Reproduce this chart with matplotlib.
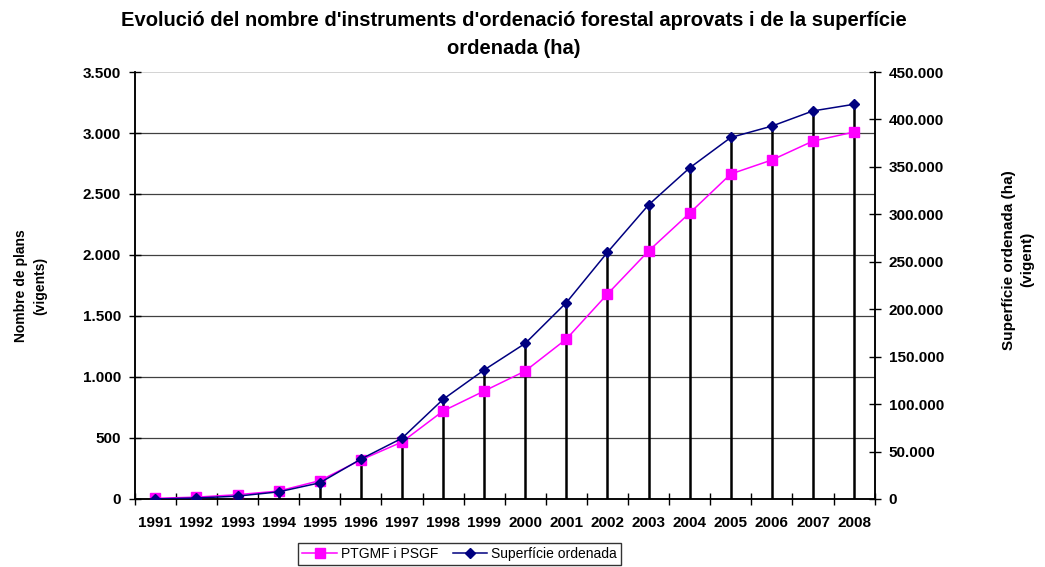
import matplotlib.pyplot as plt
import numpy as np

plt.rcParams['font.family'] = ['Liberation Sans', 'DejaVu Sans']

years = ['1991', '1992', '1993', '1994', '1995', '1996', '1997', '1998', '1999',
         '2000', '2001', '2002', '2003', '2004', '2005', '2006', '2007', '2008']
plans = [5, 15, 35, 65, 150, 320, 467, 721, 885,
         1049, 1311, 1680, 2033, 2344, 2664, 2779, 2934, 3008]
superficie = [0, 1000, 3000, 7500, 17000, 42000, 64000, 105000, 136000,
              164000, 207000, 260000, 310000, 349000, 381000, 393000, 409000, 416000]

fig = plt.figure(figsize=(10.45, 5.67), dpi=100)
ax1 = fig.add_axes([0.129, 0.12, 0.708, 0.753])
ax2 = ax1.twinx()

x = np.arange(len(years))
ymax1, ymax2 = 3500, 450000

# drop lines from the highest point down to the axis
top = np.maximum(np.array(plans), np.array(superficie) * ymax1 / ymax2)
ax1.vlines(x, 0, top, color='black', lw=1.8, zorder=1)

for v in range(500, 3500, 500):
    ax1.axhline(v, color='#404040', lw=0.9, zorder=0)
ax1.axhline(3500, color='#cccccc', lw=1.2, zorder=0)

ax1.plot(x, plans, color='#ff00ff', marker='s', ms=6.5, lw=1.1, zorder=3,
         label='PTGMF i PSGF')
ax2.plot(x, superficie, color='#000080', marker='D', ms=5, lw=1.1, zorder=3,
         label='Superfície ordenada')

ax1.set_xlim(-0.5, len(years) - 0.5)
ax1.set_ylim(0, ymax1)
ax2.set_ylim(0, ymax2)

fs = 11
ax1.set_xticks(x)
ax1.set_xticklabels(years, fontsize=fs, fontweight='bold')
ax1.set_xticks(np.arange(-0.5, len(years), 1), minor=True)
ax1.tick_params(axis='x', which='major', length=0, pad=12)
ax1.tick_params(axis='x', which='minor', length=8, direction='inout', width=1)

ax1.set_yticks(range(0, 3501, 500))
ax1.set_yticklabels([f'{v:,}'.replace(',', '.') for v in range(0, 3501, 500)],
                    fontsize=fs, fontweight='bold')
ax1.tick_params(axis='y', direction='inout', length=8, width=1, pad=6)

ax2.set_yticks(range(0, 450001, 50000))
ax2.set_yticklabels([f'{v:,}'.replace(',', '.') for v in range(0, 450001, 50000)],
                    fontsize=fs, fontweight='bold')
ax2.tick_params(axis='y', direction='inout', length=8, width=1, pad=6)

for a in (ax1, ax2):
    a.spines['top'].set_visible(False)
    for s in ('left', 'right', 'bottom'):
        a.spines[s].set_linewidth(1.1)

ax1.set_ylabel('Nombre de plans\n(vigents)', fontsize=10, fontweight='bold',
               linespacing=1.5)
ax1.yaxis.set_label_coords(-0.118, 0.5)
ax2.set_ylabel('Superfície ordenada (ha)\n(vigent)', fontsize=11, fontweight='bold',
               rotation=90, linespacing=1.35)
ax2.yaxis.set_label_coords(1.172, 0.56)

fig.suptitle("Evolució del nombre d'instruments d'ordenació forestal aprovats i de la superfície\nordenada (ha)",
             x=0.492, y=0.98, fontsize=14.5, fontweight='bold', linespacing=1.55)

h1, l1 = ax1.get_legend_handles_labels()
h2, l2 = ax2.get_legend_handles_labels()
fig.legend(h1 + h2, l1 + l2, loc='upper center', bbox_to_anchor=(0.44, 0.055),
           ncol=2, fontsize=10, frameon=True, fancybox=False, edgecolor='black',
           borderpad=0.3, handlelength=2.5, columnspacing=1.0, handletextpad=0.3)

fig.savefig('out.png', dpi=100)
